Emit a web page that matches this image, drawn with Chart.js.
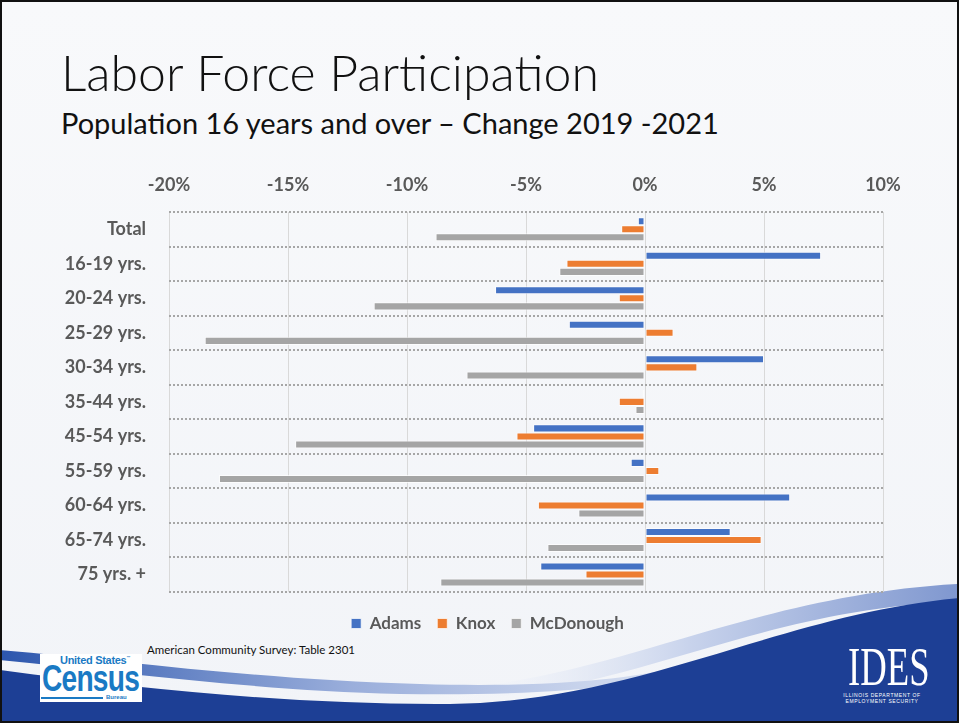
<!DOCTYPE html>
<html>
<head>
<meta charset="utf-8">
<script src="https://cdn.jsdelivr.net/npm/chart.js@4"></script>
<style>
  body { margin: 0; }
  #slide {
    position: relative; width: 959px; height: 723px; overflow: hidden;
    box-sizing: border-box; border: 2px solid #111;
    background: linear-gradient(180deg, #f8f9fb 0%, #f2f4f8 100%);
    font-family: Lato, "Open Sans", sans-serif;
  }
  #title { position: absolute; left: 59px; top: 40px; font-size: 50px; font-weight: 300; color: #111; white-space: nowrap; }
  #sub { position: absolute; left: 59px; top: 103px; font-size: 29px; color: #111; white-space: nowrap; }
  #swoosh { position: absolute; left: -2px; top: -2px; }
  #chartBox { position: absolute; left: -2px; top: 156px; }
  #source { position: absolute; left: 145px; top: 641px; font-size: 11.5px; color: #111; }
  #census { position: absolute; left: 38px; top: 652px; width: 102px; height: 48px; background: #fff; color: #1a7ac4; font-family: "Liberation Sans Narrow", "Liberation Sans", sans-serif; font-weight: bold; }
  #census .us { position: absolute; left: 20px; top: 0px; font-size: 11px; letter-spacing: -0.3px; }
  #census .cen { position: absolute; left: 2px; top: 4px; font-size: 37px; letter-spacing: -1px; transform: scaleX(0.76); transform-origin: left top; }
  #census .bar { position: absolute; left: 1px; top: 43px; width: 62px; height: 2px; background: #1a7ac4; }
  #census .bur { position: absolute; left: 66px; top: 40px; font-size: 6px; }
  #ides { position: absolute; left: 830px; top: 640px; width: 100px; color: #fff; text-align: center; }
  #ides .big { font-family: "Liberation Serif", serif; font-size: 54px; line-height: 50px; transform: scaleX(0.68); }
  #ides .small { font-family: "Liberation Sans", sans-serif; font-size: 5px; line-height: 6px; letter-spacing: 0.6px; }
</style>
</head>
<body>
<div id="slide">
  <svg id="swoosh" width="959" height="723">
    <defs>
      <linearGradient id="lb" x1="0" y1="0" x2="1" y2="0">
        <stop offset="0" stop-color="#ffffff" stop-opacity="0"/>
        <stop offset="0.5" stop-color="#c8d3ec"/>
        <stop offset="1" stop-color="#7f97cf"/>
      </linearGradient>
      <linearGradient id="lb2" x1="0" y1="0" x2="1" y2="0">
        <stop offset="0" stop-color="#2c56ad"/>
        <stop offset="0.5" stop-color="#9aaedb"/>
        <stop offset="1" stop-color="#dfe6f4"/>
      </linearGradient>
    </defs>
    <path d="M420,690 C600,688 740,596 959,584 L959,602 C760,608 640,690 460,700 Z" fill="url(#lb)"/>
    <path d="M0,650 C120,660 260,680 420,684 C560,688 650,678 700,660 L700,666 C640,690 520,696 400,694 C250,690 120,672 0,660 Z" fill="url(#lb2)"/>
    <path d="M0,670 C150,690 300,705 450,704 C640,702 780,614 961,598 L961,725 L0,725 Z" fill="#1d3f95"/>
  </svg>
  <div id="title">Labor Force Participation</div>
  <div id="sub">Population 16 years and over – Change 2019 -2021</div>
  <div id="chartBox"><canvas id="myChart" width="959" height="484"></canvas></div>
  <div id="source">American Community Survey: Table 2301</div>
  <div id="census"><span class="us">United States<sup style="font-size:4px">™</sup></span><span class="cen">Census</span><div class="bar"></div><span class="bur">Bureau</span></div>
  <div id="ides"><div class="big">IDES</div><div class="small">ILLINOIS DEPARTMENT OF<br>EMPLOYMENT SECURITY</div></div>
</div>
<script>
var categorias = ['Total', '16-19 yrs.', '20-24 yrs.', '25-29 yrs.', '30-34 yrs.', '35-44 yrs.',
    '45-54 yrs.', '55-59 yrs.', '60-64 yrs.', '65-74 yrs.', '75 yrs. +'];
var series = ['Adams', 'Knox', 'McDonough'];
var colores = ['#4472c4', '#ed7d31', '#a5a5a5'];
// cambio en puntos porcentuales
var adams = [-0.3, 7.4, -6.3, -3.2, 5.0, -0.1, -4.7, -0.6, 6.1, 3.6, -4.4];
var knox = [-1.0, -3.3, -1.1, 1.2, 2.2, -1.1, -5.4, 0.6, -4.5, 4.9, -2.5];
var mcdonough = [-8.8, -3.6, -11.4, -18.5, -7.5, -0.4, -14.7, -17.9, -2.8, -4.1, -8.6];
var ticksX = [-20, -15, -10, -5, 0, 5, 10];

function inicializarGrafico() {
    var ctx = document.getElementById('myChart').getContext('2d');
    var valores = [adams, knox, mcdonough];
    var datasets = series.map(function (s, i) {
        return {
            label: s,
            data: valores[i],
            backgroundColor: colores[i],
            borderColor: 'rgba(255,255,255,0.7)',
            borderWidth: 1,
            borderSkipped: false,
            barPercentage: 1,
            categoryPercentage: 0.7
        };
    });
    new Chart(ctx, {
        type: 'bar',
        data: { labels: categorias, datasets: datasets },
        options: {
            indexAxis: 'y',
            responsive: false,
            devicePixelRatio: 1,
            animation: false,
            layout: { padding: { left: 16, right: 0, top: 0, bottom: 0 } },
            scales: {
                x: {
                    position: 'top',
                    min: ticksX[0],
                    max: ticksX[ticksX.length - 1],
                    afterBuildTicks: function (scale) {
                        scale.ticks = ticksX.map(function (v) { return { value: v }; });
                    },
                    afterFit: function (scale) { scale.height = 54; },
                    ticks: {
                        padding: 16,
                        color: '#595959',
                        font: { family: 'Lato', size: 18, weight: 'bold' },
                        callback: function (v) { return v + '%'; }
                    },
                    grid: { color: '#d9d9d9', lineWidth: 1, drawTicks: false },
                    border: { display: false }
                },
                y: {
                    afterFit: function (scale) { scale.width = 153; },
                    ticks: {
                        padding: 23,
                        color: '#595959',
                        font: { family: 'Lato', size: 18, weight: 'bold' }
                    },
                    grid: { color: '#a6a6a6', lineWidth: 2, drawTicks: false, offset: true },
                    border: { display: false, dash: [2, 2] }
                },
                // eje vacio a la derecha, solo reserva margen
                yDer: {
                    type: 'category',
                    labels: categorias,
                    position: 'right',
                    afterFit: function (scale) { scale.width = 76; },
                    ticks: { display: false },
                    grid: { display: false },
                    border: { display: false }
                }
            },
            plugins: {
                legend: {
                    position: 'bottom',
                    title: { display: true, text: ' ', padding: 0, font: { size: 6 } },
                    labels: {
                        boxWidth: 10,
                        boxHeight: 10,
                        padding: 16,
                        color: '#595959',
                        font: { family: 'Lato', size: 17, weight: 'bold' }
                    }
                },
                tooltip: { enabled: false }
            }
        }
    });
}

inicializarGrafico();
</script>
</body>
</html>
